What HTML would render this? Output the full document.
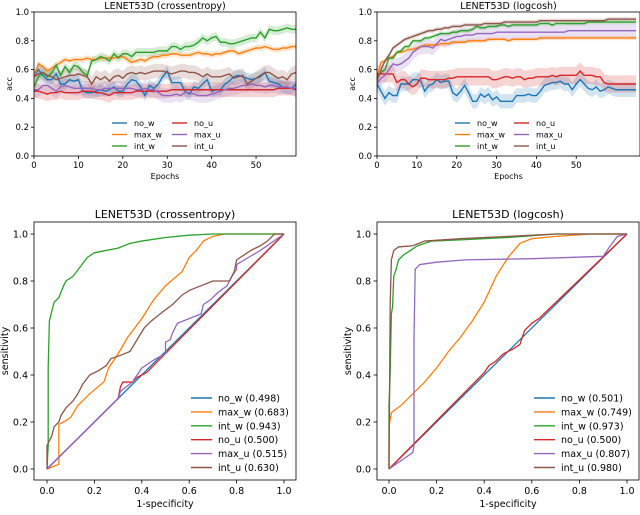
<!DOCTYPE html>
<html><head><meta charset="utf-8"><style>
body{margin:0;background:#fff}
svg text{font-family:"DejaVu Sans","Liberation Sans",sans-serif;fill:#000}
</style></head><body>
<svg id="fig" width="640" height="510" viewBox="0 0 640 510"></svg>
<script>
const colors=['#1f77b4','#ff7f0e','#2ca02c','#d62728','#9467bd','#8c564b'];
const seriesNames=['no_w','max_w','int_w','no_u','max_u','int_u'];
// Top-left accuracy (crossentropy)
const tl_no_w=[0.55,0.6,0.56,0.53,0.53,0.57,0.5,0.5,0.53,0.52,0.53,0.45,0.44,0.44,0.45,0.46,0.45,0.46,0.48,0.45,0.45,0.5,0.53,0.52,0.48,0.42,0.49,0.47,0.5,0.55,0.59,0.51,0.51,0.51,0.45,0.43,0.48,0.47,0.5,0.53,0.45,0.46,0.46,0.5,0.52,0.55,0.56,0.55,0.54,0.53,0.54,0.55,0.58,0.52,0.51,0.5,0.48,0.47,0.47,0.5];
const tl_max_w=[0.55,0.64,0.62,0.59,0.61,0.63,0.65,0.67,0.66,0.67,0.67,0.67,0.68,0.67,0.67,0.68,0.68,0.68,0.68,0.69,0.69,0.67,0.65,0.66,0.67,0.66,0.68,0.69,0.69,0.7,0.7,0.71,0.71,0.7,0.7,0.7,0.71,0.72,0.71,0.71,0.7,0.71,0.71,0.72,0.73,0.73,0.71,0.72,0.73,0.74,0.75,0.75,0.76,0.75,0.74,0.74,0.75,0.75,0.76,0.76];
const tl_int_w=[0.48,0.55,0.58,0.55,0.58,0.63,0.56,0.62,0.58,0.63,0.62,0.58,0.56,0.66,0.67,0.69,0.68,0.66,0.71,0.68,0.71,0.71,0.69,0.72,0.72,0.72,0.72,0.72,0.73,0.73,0.73,0.76,0.76,0.74,0.76,0.76,0.77,0.79,0.82,0.8,0.82,0.83,0.79,0.79,0.78,0.78,0.79,0.8,0.81,0.82,0.82,0.86,0.82,0.88,0.87,0.87,0.88,0.89,0.88,0.88];
const tl_no_u=[0.45,0.45,0.44,0.43,0.44,0.44,0.45,0.44,0.44,0.44,0.44,0.45,0.45,0.45,0.44,0.44,0.43,0.42,0.44,0.44,0.44,0.44,0.44,0.45,0.45,0.45,0.45,0.45,0.45,0.45,0.45,0.46,0.46,0.46,0.46,0.46,0.46,0.46,0.46,0.46,0.46,0.46,0.46,0.46,0.46,0.46,0.46,0.46,0.46,0.46,0.46,0.46,0.46,0.46,0.46,0.47,0.47,0.47,0.47,0.46];
const tl_max_u=[0.46,0.46,0.49,0.49,0.47,0.45,0.48,0.49,0.48,0.47,0.47,0.47,0.47,0.47,0.46,0.46,0.47,0.47,0.47,0.47,0.47,0.47,0.47,0.46,0.46,0.47,0.46,0.46,0.44,0.42,0.42,0.42,0.43,0.42,0.44,0.44,0.43,0.42,0.42,0.42,0.43,0.44,0.45,0.46,0.47,0.47,0.48,0.49,0.49,0.5,0.49,0.49,0.48,0.49,0.49,0.48,0.48,0.48,0.47,0.47];
const tl_int_u=[0.55,0.57,0.58,0.56,0.55,0.53,0.54,0.55,0.56,0.56,0.57,0.56,0.55,0.5,0.55,0.53,0.55,0.52,0.55,0.56,0.54,0.57,0.58,0.57,0.58,0.57,0.58,0.59,0.59,0.59,0.58,0.57,0.58,0.59,0.59,0.58,0.58,0.57,0.55,0.57,0.55,0.55,0.55,0.56,0.57,0.54,0.55,0.56,0.5,0.52,0.54,0.56,0.58,0.58,0.56,0.54,0.55,0.53,0.57,0.58];
const tl_band=[0.04,0.02,0.03,0.05,0.05,0.05];
// Top-right accuracy (logcosh)
const tr_no_w=[0.5,0.45,0.4,0.44,0.42,0.42,0.5,0.5,0.5,0.53,0.53,0.52,0.45,0.49,0.5,0.53,0.51,0.52,0.52,0.44,0.42,0.45,0.49,0.44,0.38,0.38,0.43,0.41,0.43,0.39,0.41,0.38,0.38,0.38,0.38,0.42,0.42,0.42,0.43,0.42,0.42,0.45,0.49,0.5,0.51,0.51,0.52,0.5,0.5,0.46,0.5,0.53,0.5,0.47,0.46,0.48,0.45,0.46,0.48,0.47,0.46,0.46,0.46,0.46,0.46,0.46];
const tr_max_w=[0.55,0.65,0.66,0.68,0.69,0.72,0.72,0.73,0.74,0.74,0.75,0.76,0.77,0.77,0.77,0.77,0.78,0.78,0.78,0.79,0.79,0.79,0.79,0.8,0.8,0.8,0.8,0.8,0.81,0.81,0.81,0.81,0.81,0.8,0.81,0.81,0.81,0.81,0.81,0.81,0.81,0.82,0.82,0.82,0.82,0.82,0.82,0.82,0.82,0.82,0.82,0.82,0.82,0.82,0.82,0.82,0.82,0.82,0.82,0.82,0.82,0.82,0.82,0.82,0.82,0.82];
const tr_int_w=[0.55,0.58,0.6,0.68,0.68,0.72,0.73,0.76,0.76,0.8,0.8,0.8,0.82,0.82,0.83,0.84,0.85,0.85,0.85,0.86,0.86,0.87,0.87,0.87,0.88,0.9,0.89,0.89,0.9,0.9,0.9,0.91,0.91,0.9,0.91,0.91,0.91,0.91,0.91,0.91,0.91,0.92,0.92,0.92,0.91,0.92,0.92,0.92,0.92,0.92,0.92,0.92,0.92,0.93,0.93,0.93,0.93,0.93,0.93,0.93,0.93,0.93,0.93,0.93,0.93,0.93];
const tr_no_u=[0.57,0.57,0.57,0.57,0.57,0.51,0.53,0.53,0.5,0.48,0.5,0.54,0.54,0.53,0.53,0.53,0.53,0.53,0.54,0.54,0.55,0.55,0.55,0.55,0.55,0.55,0.55,0.55,0.55,0.53,0.53,0.54,0.55,0.55,0.54,0.55,0.55,0.53,0.54,0.54,0.55,0.55,0.55,0.55,0.56,0.55,0.56,0.56,0.56,0.56,0.56,0.59,0.56,0.56,0.56,0.55,0.55,0.51,0.5,0.5,0.5,0.5,0.5,0.5,0.5,0.5];
const tr_max_u=[0.5,0.54,0.56,0.6,0.64,0.63,0.64,0.66,0.68,0.72,0.74,0.76,0.76,0.76,0.75,0.78,0.81,0.8,0.81,0.82,0.83,0.83,0.84,0.84,0.84,0.85,0.85,0.85,0.85,0.85,0.86,0.86,0.86,0.86,0.86,0.86,0.86,0.86,0.86,0.86,0.86,0.86,0.86,0.86,0.86,0.86,0.86,0.86,0.87,0.87,0.87,0.87,0.87,0.87,0.87,0.87,0.87,0.87,0.87,0.87,0.87,0.87,0.87,0.87,0.87,0.87];
const tr_int_u=[0.52,0.6,0.66,0.7,0.75,0.77,0.79,0.81,0.82,0.83,0.84,0.85,0.86,0.87,0.87,0.88,0.88,0.89,0.89,0.9,0.9,0.9,0.91,0.91,0.91,0.91,0.91,0.92,0.92,0.92,0.92,0.92,0.93,0.93,0.93,0.93,0.93,0.93,0.93,0.93,0.93,0.94,0.94,0.94,0.94,0.94,0.94,0.94,0.94,0.94,0.94,0.94,0.94,0.94,0.94,0.94,0.94,0.94,0.95,0.95,0.95,0.95,0.95,0.95,0.95,0.95];
const tr_band=[0.05,0.015,0.015,0.06,0.05,0.015];
const accTicksY=[0,0.2,0.4,0.6,0.8,1.0];
const accTicksX=[0,10,20,30,40,50];
// ROC bottom-left
const bl_fpr=[[0,0.4,1],[0,0.05,0.05,0.07,0.1,0.13,0.18,0.24,0.26,0.3,0.34,0.4,0.45,0.5,0.57,0.6,0.63,0.66,0.7,0.75,1],[0,0.005,0.005,0.01,0.02,0.03,0.05,0.07,0.08,0.11,0.14,0.17,0.2,0.25,0.3,0.35,0.4,0.5,0.6,0.7,1],[0,0.3,0.31,0.32,0.36,0.38,0.4,0.42,1],[0,0.3,0.31,0.36,0.38,0.4,0.43,0.46,0.5,0.5,0.52,0.53,0.55,0.6,0.65,0.66,0.69,0.72,0.76,0.78,0.8,0.8,0.85,0.9,1],[0,0,0.02,0.03,0.05,0.06,0.08,0.11,0.13,0.15,0.18,0.22,0.25,0.27,0.3,0.35,0.38,0.41,0.44,0.49,0.53,0.57,0.6,0.65,0.7,0.77,0.79,0.8,0.83,0.86,0.9,0.93,0.96,1]];
const bl_tpr=[[0,0.4,1],[0,0.02,0.19,0.2,0.22,0.27,0.32,0.37,0.43,0.49,0.56,0.64,0.72,0.78,0.84,0.9,0.93,0.97,0.99,1,1],[0,0.1,0.43,0.63,0.67,0.71,0.73,0.78,0.8,0.82,0.86,0.9,0.92,0.93,0.94,0.96,0.97,0.985,0.995,1,1],[0,0.3,0.35,0.37,0.37,0.39,0.4,0.41,1],[0,0.3,0.33,0.37,0.4,0.43,0.45,0.47,0.49,0.54,0.55,0.58,0.62,0.64,0.66,0.7,0.72,0.75,0.78,0.82,0.85,0.87,0.9,0.93,1],[0,0.1,0.14,0.18,0.2,0.23,0.26,0.29,0.32,0.36,0.4,0.42,0.44,0.47,0.48,0.5,0.55,0.6,0.63,0.67,0.7,0.74,0.76,0.78,0.8,0.8,0.84,0.89,0.91,0.93,0.95,0.97,1,1]];
const bl_labels=['no_w (0.498)','max_w (0.683)','int_w (0.943)','no_u (0.500)','max_u (0.515)','int_u (0.630)'];
// ROC bottom-right
const br_fpr=[[0,1],[0,0,0.01,0.05,0.1,0.15,0.2,0.25,0.3,0.35,0.4,0.45,0.5,0.55,0.6,0.7,0.85,1],[0,0,0.005,0.01,0.015,0.02,0.03,0.04,0.06,0.09,0.12,0.18,0.3,0.5,0.7,1],[0,0.4,0.42,0.45,0.48,0.52,0.55,0.57,0.6,0.63,1],[0,0.1,0.105,0.105,0.11,0.13,0.2,0.32,0.6,0.9,0.93,0.96,1],[0,0.005,0.01,0.02,0.04,0.1,0.15,0.3,0.5,0.7,1]];
const br_tpr=[[0,1],[0,0.18,0.24,0.27,0.32,0.37,0.43,0.5,0.56,0.63,0.71,0.82,0.9,0.96,0.98,0.99,1,1],[0,0.27,0.41,0.66,0.69,0.82,0.85,0.89,0.91,0.93,0.95,0.97,0.975,0.985,1,1],[0,0.41,0.44,0.46,0.49,0.51,0.53,0.59,0.62,0.64,1],[0,0.07,0.1,0.55,0.85,0.87,0.88,0.89,0.895,0.905,0.95,0.99,1],[0,0.7,0.89,0.93,0.945,0.95,0.97,0.98,0.99,1,1]];
const br_labels=['no_w (0.501)','max_w (0.749)','int_w (0.973)','no_u (0.500)','max_u (0.807)','int_u (0.980)'];
const rocTicks=[0,0.2,0.4,0.6,0.8,1.0];

const svg=document.getElementById('fig');
const NS='http://www.w3.org/2000/svg';
function mk(tag,attrs,parent){const e=document.createElementNS(NS,tag);for(const k in attrs)e.setAttribute(k,attrs[k]);(parent||svg).appendChild(e);return e;}
function txt(s,x,y,size,anchor,parent,rot){const t=mk('text',{x:x,y:y,'font-size':size,'text-anchor':anchor||'middle'},parent);if(rot)t.setAttribute('transform','rotate(-90 '+x+' '+y+')');t.textContent=s;return t;}

function accPlot(id,box,xmax,data,bands,title,leg){
  const g=mk('g',{});
  
  
  const sx=v=>box.x0+(v-0)/(xmax)*(box.x1-box.x0);
  const sy=v=>box.y1-(v)*(box.y1-box.y0);
  const clip=mk('clipPath',{id:id+'-clip'},g);mk('rect',{x:box.x0,y:box.y0,width:box.x1-box.x0,height:box.y1-box.y0},clip);
  const pg=mk('g',{'clip-path':'url(#'+id+'-clip)'},g);
  data.forEach((arr,k)=>{
    const up=arr.map((v,i)=>sx(i)+','+sy(v+bands[k])).join(' ');
    const dn=arr.map((v,i)=>sx(i)+','+sy(v-bands[k])).reverse().join(' ');
    const b=mk('polygon',{points:up+' '+dn,fill:colors[k],'fill-opacity':0.2,stroke:'none'},pg);
    
    
  });
  data.forEach((arr,k)=>{
    const l=mk('polyline',{points:arr.map((v,i)=>sx(i)+','+sy(v)).join(' '),fill:'none',stroke:colors[k],'stroke-width':1.4},pg);
    
    
  });
  mk('rect',{x:box.x0,y:box.y0,width:box.x1-box.x0,height:box.y1-box.y0,fill:'none',stroke:'#000','stroke-width':0.8},g);
  accTicksY.forEach(v=>{mk('line',{x1:box.x0-3,x2:box.x0,y1:sy(v),y2:sy(v),stroke:'#000','stroke-width':0.8},g);const t=txt(v.toFixed(1),box.x0-5,sy(v)+3,8.5,'end',g);});
  accTicksX.forEach(v=>{mk('line',{x1:sx(v),x2:sx(v),y1:box.y1,y2:box.y1+3,stroke:'#000','stroke-width':0.8},g);const t=txt(String(v),sx(v),box.y1+12,8.5,'middle',g);});
  const tt=txt(title,(box.x0+box.x1)/2,box.y0-3,9.5,'middle',g);
  const xl=txt('Epochs',(box.x0+box.x1)/2,box.y1+23,8,'middle',g);
  const yl=txt('acc',box.x0-22,(box.y0+box.y1)/2,8,'middle',g,true);
  const order=[0,1,2,3,4,5];
  order.forEach(k=>{const col=k<3?0:1,row=k%3;const lx=leg.x+col*leg.dx,ly=leg.y+row*11.5;
    const e=mk('g',{},g);
    mk('line',{x1:lx,x2:lx+15,y1:ly,y2:ly,stroke:colors[k],'stroke-width':1.4},e);txt(seriesNames[k],lx+22,ly+3,8,'start',e);});
}
function rocPlot(id,box,fpr,tpr,labels,title,leg){
  const g=mk('g',{});
  
  
  const sx=v=>box.ax0+v*(box.ax1-box.ax0);
  const sy=v=>box.ay0-v*(box.ay0-box.ay1);
  mk('rect',{x:box.x0,y:box.y0,width:box.x1-box.x0,height:box.y1-box.y0,fill:'none',stroke:'#000','stroke-width':0.8},g);
  fpr.forEach((fs,k)=>{
    const l=mk('polyline',{points:fs.map((f,i)=>sx(f)+','+sy(tpr[k][i])).join(' '),fill:'none',stroke:colors[k],'stroke-width':1.3},g);
    
    
  });
  rocTicks.forEach(v=>{
    mk('line',{x1:box.x0-3.5,x2:box.x0,y1:sy(v),y2:sy(v),stroke:'#000','stroke-width':0.8},g);
    const a=txt(v.toFixed(1),box.x0-6,sy(v)+3.5,9.5,'end',g);
    mk('line',{x1:sx(v),x2:sx(v),y1:box.y1,y2:box.y1+3.5,stroke:'#000','stroke-width':0.8},g);
    const b=txt(v.toFixed(1),sx(v),box.y1+14,9.5,'middle',g);
  });
  const tt=txt(title,(box.x0+box.x1)/2,box.y0-4,11,'middle',g);
  const xl=txt('1-specificity',(box.x0+box.x1)/2,507,9.5,'middle',g);
  const yl=txt('sensitivity',box.x0-26,(box.y0+box.y1)/2,9.5,'middle',g,true);
  labels.forEach((s,k)=>{const ly=leg.y+k*13.9;
    const e=mk('g',{},g);
    mk('line',{x1:leg.x,x2:leg.x+21,y1:ly,y2:ly,stroke:colors[k],'stroke-width':1.4},e);txt(s,leg.x+27,ly+3.5,9.5,'start',e);});
}
accPlot('accuracy-crossentropy',{x0:34,x1:296,y0:12,y1:156},59,[tl_no_w,tl_max_w,tl_int_w,tl_no_u,tl_max_u,tl_int_u],tl_band,'LENET53D (crossentropy)',{x:112,y:123,dx:60});
accPlot('accuracy-logcosh',{x0:377,x1:640,y0:12,y1:156},66,[tr_no_w,tr_max_w,tr_int_w,tr_no_u,tr_max_u,tr_int_u],tr_band,'LENET53D (logcosh)',{x:455,y:123,dx:59});
rocPlot('roc-crossentropy',{x0:34,x1:296,y0:222,y1:480,ax0:47,ax1:284,ay0:469,ay1:234},bl_fpr,bl_tpr,bl_labels,'LENET53D (crossentropy)',{x:191,y:398});
rocPlot('roc-logcosh',{x0:377,x1:639,y0:222,y1:480,ax0:389,ax1:627,ay0:469,ay1:234},br_fpr,br_tpr,br_labels,'LENET53D (logcosh)',{x:534,y:398});
</script>
</body></html>
